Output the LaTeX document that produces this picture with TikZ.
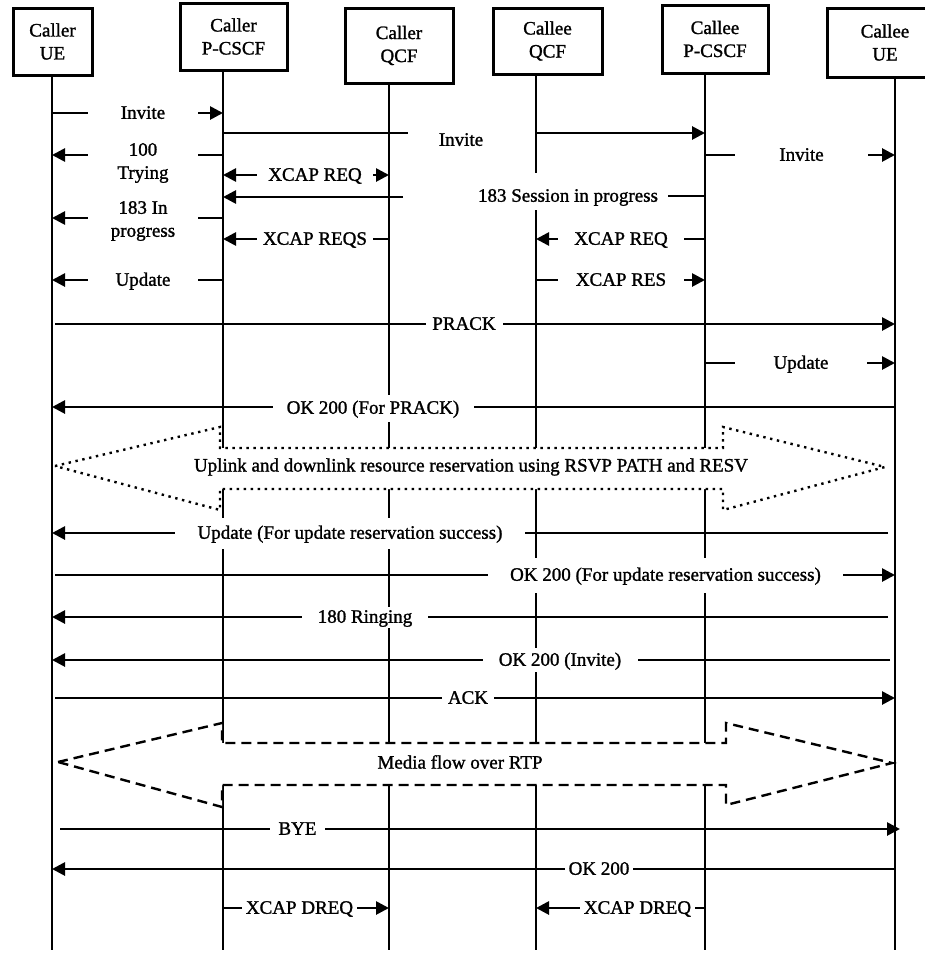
\documentclass[tikz,border=0pt]{standalone}
\usepackage{fontspec}
\setmainfont{Liberation Serif}[BoldFont={Liberation Serif}, BoldFeatures={FakeBold=1.3}]
\usetikzlibrary{arrows.meta}
\begin{document}
\begin{tikzpicture}[x=1pt,y=-1pt,
  every node/.style={font=\fontsize{19}{23}\selectfont\bfseries},
  hbox/.style={draw, line width=3pt, align=center, inner sep=0pt},
  life/.style={line width=2.7pt},
  msg/.style={line width=2.7pt},
  tip/.tip={Triangle[length=13pt,width=13pt]},
  arr/.style={msg, -tip},
  lbl/.style={fill=white, inner sep=0pt, text height=12.5pt, text depth=1pt, minimum height=20pt},
  lbl2/.style={fill=white, inner sep=0pt, align=center},
  big/.style={fill=white, line width=2.4pt, line join=miter}
]
\useasboundingbox (0,0) rectangle (925,953);

% header boxes
\node[hbox, minimum width=79pt, minimum height=67pt] (ue1) at (52.5,41.5) {Caller\\UE};
\node[hbox, minimum width=107pt, minimum height=67pt] (pc1) at (233.5,36.5) {Caller\\P-CSCF};
\node[hbox, minimum width=108pt, minimum height=75pt] (qc1) at (399,45.5) {Caller\\QCF};
\node[hbox, minimum width=109pt, minimum height=66pt] (qc2) at (547.5,41) {Callee\\QCF};
\node[hbox, minimum width=106pt, minimum height=68pt] (pc2) at (715,39) {Callee\\P-CSCF};
\node[hbox, minimum width=116pt, minimum height=69pt] (ue2) at (885,42.5) {Callee\\UE};

% lifelines
\coordinate (L1) at (52,75);   \coordinate (L1e) at (52,950);
\coordinate (L2) at (223,70);  \coordinate (L2e) at (223,950);
\coordinate (L3) at (389,83);  \coordinate (L3e) at (389,950);
\coordinate (L4) at (536,74);  \coordinate (L4e) at (536,950);
\coordinate (L5) at (705,73);  \coordinate (L5e) at (705,950);
\coordinate (L6) at (895,77);  \coordinate (L6e) at (895,950);
\draw[life] (L1) -- (L1e);
\draw[life] (L2) -- (L2e);
\draw[life] (L3) -- (L3e);
\draw[life] (L4) -- (L4 |- 0,173);
\draw[life] (L4 |- 0,210) -- (L4e);
\draw[life] (L5) -- (L5e);
\draw[life] (L6) -- (L6e);

% 1 Invite
\draw[arr] (L1 |- 0,113) -- (L2 |- 0,113);
\node[lbl, minimum width=110pt] (m1) at (143,113) {Invite};
% 2 Invite (P-CSCF to P-CSCF)
\coordinate (i2a) at (408,133);
\draw[msg] (L2 |- 0,133) -- (i2a);
\draw[arr] (L4 |- 0,133) -- (L5 |- 0,133);
\node[lbl, fill=none] (m2) at (461,140) {Invite};
% 3 Invite callee
\draw[arr] (L5 |- 0,155) -- (L6 |- 0,155);
\node[lbl, minimum width=133pt] (m3) at (801.5,155) {Invite};
% 4 100 Trying
\draw[arr] (L2 |- 0,155) -- (L1 |- 0,155);
\node[lbl2, minimum width=110pt] (m4) at (143,163) {100\\Trying};
% 5 XCAP REQ
\draw[msg, tip-tip] (L2 |- 0,175) -- (L3 |- 0,175);
\node[lbl, minimum width=116pt] (m5) at (315,175) {XCAP REQ};
% 6 183 Session in progress
\coordinate (s6a) at (668,196);
\coordinate (s6b) at (403,197);
\draw[msg] (L5 |- 0,196) -- (s6a);
\draw[arr] (s6b) -- (L2 |- 0,197);
\node[lbl, fill=none] (m6) at (568,196) {183 Session in progress};
% 7 183 In progress
\draw[arr] (L2 |- 0,218) -- (L1 |- 0,218);
\node[lbl2, minimum width=110pt] (m7) at (143,221) {183 In\\progress};
% 8 XCAP REQS
\draw[arr] (L3 |- 0,239) -- (L2 |- 0,239);
\node[lbl, minimum width=116pt] (m8) at (315,239) {XCAP REQS};
% 9 XCAP REQ callee
\draw[arr] (L5 |- 0,239) -- (L4 |- 0,239);
\node[lbl, minimum width=126pt] (m9) at (621,239) {XCAP REQ};
% 10 Update
\draw[arr] (L2 |- 0,280) -- (L1 |- 0,280);
\node[lbl, minimum width=110pt] (m10) at (143,280) {Update};
% 11 XCAP RES
\draw[arr] (L4 |- 0,280) -- (L5 |- 0,280);
\node[lbl, minimum width=126pt] (m11) at (621,280) {XCAP RES};
% 12 PRACK
\draw[arr, shorten <=3pt] (L1 |- 0,324) -- (L6 |- 0,324);
\node[lbl, minimum width=77pt] (m12) at (464,324) {PRACK};
% 13 Update callee
\draw[arr] (L5 |- 0,363) -- (L6 |- 0,363);
\node[lbl, minimum width=132pt] (m13) at (801,363) {Update};
% 14 OK 200 (For PRACK)
\draw[arr] (L6 |- 0,407) -- (L1 |- 0,407);
\node[lbl, minimum width=201pt, minimum height=27pt] (m14) at (373,408) {OK 200 (For PRACK)};

% dotted reservation arrow
\draw[big, dash pattern=on 2.4pt off 4.6pt] (55,466) -- (220,427) -- (220,448) -- (723,448) -- (723,427) -- (885,467) -- (723,510) -- (723,489) -- (220,489) -- (220,510) -- cycle;
\node (rsv) at (471,467) {Uplink and downlink resource reservation using RSVP PATH and RESV};

% 16 Update (For update reservation success)
\draw[arr, shorten <=7pt] (L6 |- 0,533) -- (L1 |- 0,533);
\node[lbl, minimum width=350pt, minimum height=31pt] (m16) at (350,533) {Update (For update reservation success)};
% 17 OK 200 (For update reservation success)
\draw[arr, shorten <=3pt] (L1 |- 0,575) -- (L6 |- 0,575);
\node[lbl, minimum width=355pt, minimum height=35pt] (m17) at (665.5,575) {OK 200 (For update reservation success)};
% 18 180 Ringing
\draw[arr, shorten <=7pt] (L6 |- 0,617) -- (L1 |- 0,617);
\node[lbl, minimum width=126pt, minimum height=21pt] (m18) at (365,617) {180 Ringing};
% 19 OK 200 (Invite)
\draw[arr, shorten <=5pt] (L6 |- 0,660) -- (L1 |- 0,660);
\node[lbl, minimum width=155pt, minimum height=24pt] (m19) at (560,660) {OK 200 (Invite)};
% 20 ACK
\draw[arr, shorten <=3pt] (L1 |- 0,698) -- (L6 |- 0,698);
\node[lbl, minimum width=52pt] (m20) at (468,698) {ACK};

% dashed media arrow
\draw[big, dash pattern=on 10pt off 6pt] (58,762) -- (222,723) -- (222,743) -- (726,743) -- (726,723) -- (892,763) -- (726,805) -- (726,785) -- (222,785) -- (222,807) -- cycle;
\node (media) at (460,762) {Media flow over RTP};

% 22 BYE
\draw[arr, shorten <=8pt, shorten >=-5pt] (L1 |- 0,829) -- (L6 |- 0,829);
\node[lbl, minimum width=55pt] (m22) at (297.5,829) {BYE};
% 23 OK 200
\draw[arr] (L6 |- 0,869) -- (L1 |- 0,869);
\node[lbl, minimum width=68pt] (m23) at (599,869) {OK 200};
% 24 XCAP DREQ caller
\draw[arr] (L2 |- 0,908) -- (L3 |- 0,908);
\node[lbl, minimum width=115pt] (m24) at (299.5,908) {XCAP DREQ};
% 25 XCAP DREQ callee
\draw[arr] (L5 |- 0,908) -- (L4 |- 0,908);
\node[lbl, minimum width=115pt] (m25) at (637.5,908) {XCAP DREQ};
\end{tikzpicture}
\end{document}
